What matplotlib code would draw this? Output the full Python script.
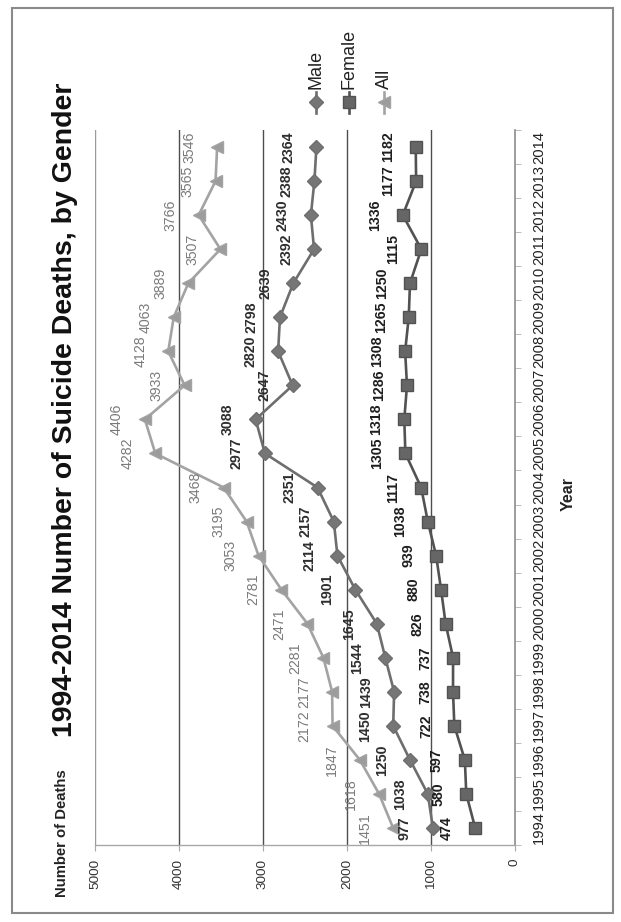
import matplotlib
matplotlib.use("Agg")
import matplotlib.pyplot as plt
from matplotlib.lines import Line2D
from matplotlib.patches import Rectangle
from matplotlib.ticker import FixedLocator

years = list(range(1994, 2015))
male = [977, 1038, 1250, 1450, 1439, 1544, 1645, 1901, 2114, 2157, 2351,
        2977, 3088, 2647, 2820, 2798, 2639, 2392, 2430, 2388, 2364]
female = [474, 580, 597, 722, 738, 737, 826, 880, 939, 1038, 1117,
          1305, 1318, 1286, 1308, 1265, 1250, 1115, 1336, 1177, 1182]
total = [1451, 1618, 1847, 2172, 2177, 2281, 2471, 2781, 3053, 3195, 3468,
         4282, 4406, 3933, 4128, 4063, 3889, 3507, 3766, 3565, 3546]
value_ticks = [0, 1000, 2000, 3000, 4000, 5000]

plt.rcParams["font.family"] = ["Liberation Sans", "DejaVu Sans"]

W, H = 621, 922
fig = plt.figure(figsize=(W / 100, H / 100), dpi=100)


def fx(px):
    return px / W


def fy(py):
    # pixel rows are counted from the top
    return 1 - py / H


# chart is laid out sideways: values run right-to-left, years bottom-to-top
left, right, top, bottom = 95, 515, 130, 845
ax = fig.add_axes([fx(left), fy(bottom), fx(right - left), (bottom - top) / H])
ax.set_xlim(5000, 0)
ax.set_ylim(-0.5, len(years) - 0.5)

for v in value_ticks[1:]:
    ax.axvline(v, color="#9a9a9a" if v == 5000 else "#4d4d4d",
               lw=1.0, zorder=1)

for s in ["left", "top"]:
    ax.spines[s].set_visible(False)
ax.spines["right"].set_color("#8c8c8c")
ax.spines["right"].set_linewidth(1.2)
ax.spines["bottom"].set_color("#a8a8a8")
ax.spines["bottom"].set_linewidth(1.0)

idx = list(range(len(years)))
series = [
    (total, "All", "<", 9, "#a3a3a3", "#9c9c9c", "#7a7a7a", "normal"),
    (male, "Male", "D", 7, "#6e6e6e", "#767676", "#2e2e2e", "bold"),
    (female, "Female", "s", 8.5, "#525252", "#666666", "#1e1e1e", "bold"),
]
for vals, name, mk, ms, lc, mc, tc, fw in series:
    ax.plot(vals, idx, color=lc, lw=1.9, marker=mk, ms=ms,
            markerfacecolor=mc, markeredgecolor=lc, markeredgewidth=1.0,
            zorder=3, label=name)
    for v, i in zip(vals, idx):
        ax.annotate(str(v), (v, i), xytext=(-28, 0),
                    textcoords="offset pixels", rotation=90,
                    ha="center", va="center", fontsize=10.2,
                    color=tc, fontweight=fw, zorder=4)

# value axis along the bottom
ax.xaxis.set_major_locator(FixedLocator(value_ticks))
ax.set_xticklabels([str(v) for v in value_ticks], rotation=90,
                   fontsize=9.7, color="#333333")
ax.tick_params(axis="x", length=4, color="#a8a8a8", pad=6)

# year axis on the right
ax.yaxis.set_major_locator(FixedLocator(idx))
ax.yaxis.set_minor_locator(FixedLocator([i - 0.5 for i in range(len(years) + 1)]))
ax.set_yticklabels([str(y) for y in years], rotation=90, va="center",
                   fontsize=10.6, color="#222222")
ax.yaxis.tick_right()
ax.tick_params(axis="y", which="major", length=0, pad=17 * 0.72)
ax.tick_params(axis="y", which="minor", length=4, color="#b0b0b0")

# titles
fig.text(fx(65), fy(737), "1994-2014 Number of Suicide Deaths, by Gender",
         rotation=90, ha="center", va="bottom", fontsize=20.5,
         fontweight="bold", color="#111111")
fig.text(fx(62), fy(897), "Number of Deaths", rotation=90, ha="center",
         va="bottom", fontsize=10.7, fontweight="bold", color="#222222")
fig.text(fx(568), fy(494), "Year", rotation=90, ha="center", va="center",
         fontsize=11.5, fontweight="bold", color="#222222")

# legend, drawn by hand because it is turned as well
for name, x, mk, ms, lc, mc in [("Male", 316, "D", 7, "#6e6e6e", "#767676"),
                                ("Female", 349, "s", 8.5, "#525252", "#666666"),
                                ("All", 384, "<", 9, "#a3a3a3", "#9c9c9c")]:
    fig.add_artist(Line2D([fx(x), fx(x)], [fy(113), fy(92)], color=lc, lw=1.9))
    fig.add_artist(Line2D([fx(x)], [fy(102)], marker=mk, ms=ms,
                          markerfacecolor=mc, markeredgecolor=lc))
    fig.text(fx(x), fy(89), name, rotation=90, ha="center", va="bottom",
             fontsize=13, color="#222222")

fig.add_artist(Rectangle((fx(12), fy(913)), fx(613 - 12), (913 - 8) / H,
                         fill=False, edgecolor="#8a8a8a", lw=1.5))

fig.savefig("out.png", dpi=100)
